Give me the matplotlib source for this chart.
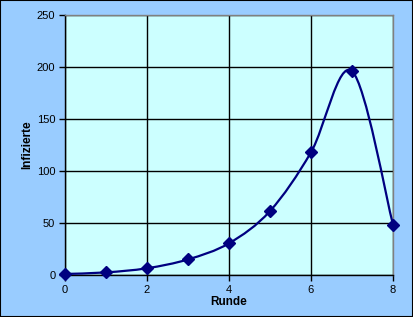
import numpy as np
import matplotlib
matplotlib.use("Agg")
import matplotlib.pyplot as plt
from matplotlib.path import Path
from matplotlib.patches import PathPatch, Rectangle

rounds = [0, 1, 2, 3, 4, 5, 6, 7, 8]
infected = [1, 2.5, 6.5, 15, 30.5, 61.5, 118, 196, 48.5]
x_ticks = [0, 2, 4, 6, 8]
y_ticks = [0, 50, 100, 150, 200, 250]

plt.rcParams['font.family'] = ['Liberation Sans', 'DejaVu Sans']

fig = plt.figure(figsize=(4.13, 3.17), dpi=100, facecolor='#99CCFF')
fig.patches.append(Rectangle((0, 0), 1, 1, transform=fig.transFigure, fill=False,
                             edgecolor='black', linewidth=1.5, zorder=10))
ax = fig.add_axes([65/413, 1-275/317, 328/413, 260/317])
ax.set_facecolor('#CCFFFF')
ax.set_xlim(0, 8)
ax.set_ylim(0, 250)
ax.set_xticks(x_ticks)
ax.set_yticks(y_ticks)
ax.grid(True, color='black', linewidth=1)
ax.set_axisbelow(True)
for s in ['left', 'bottom']:
    ax.spines[s].set_color('black')
    ax.spines[s].set_linewidth(1)
for s in ['top', 'right']:
    ax.spines[s].set_color('#808080')
    ax.spines[s].set_linewidth(1)
ax.tick_params(axis='both', direction='out', length=4, width=1, labelsize=8, pad=3)

# Excel-like smoothed line: cubic Bezier in display space
pts = ax.transData.transform(np.column_stack([rounds, infected]))
n = len(pts)
verts = [pts[0]]
codes = [Path.MOVETO]
for i in range(n - 1):
    p0 = pts[i - 1] if i > 0 else pts[i]
    p1 = pts[i]
    p2 = pts[i + 1]
    p3 = pts[i + 2] if i + 2 < n else pts[i + 1]
    c1 = p1 + (p2 - p0) / 6
    c2 = p2 - (p3 - p1) / 6
    verts += [c1, c2, p2]
    codes += [Path.CURVE4] * 3
path = Path(ax.transData.inverted().transform(np.array(verts)), codes)
ax.add_patch(PathPatch(path, facecolor='none', edgecolor='#000080', linewidth=1.6,
                       transform=ax.transData, clip_on=False, zorder=3))
ax.plot(rounds, infected, linestyle='none', marker='D', markersize=6,
        color='#000080', clip_on=False, zorder=4)

ax.set_xlabel('Runde', fontsize=8.5, fontweight='bold', va='center')
ax.set_ylabel('Infizierte', fontsize=8.5, fontweight='bold', va='center')
ax.xaxis.set_label_coords(0.5, -0.104)
ax.yaxis.set_label_coords(-0.116, 0.5)

fig.savefig('out.png', dpi=100, facecolor=fig.get_facecolor())
